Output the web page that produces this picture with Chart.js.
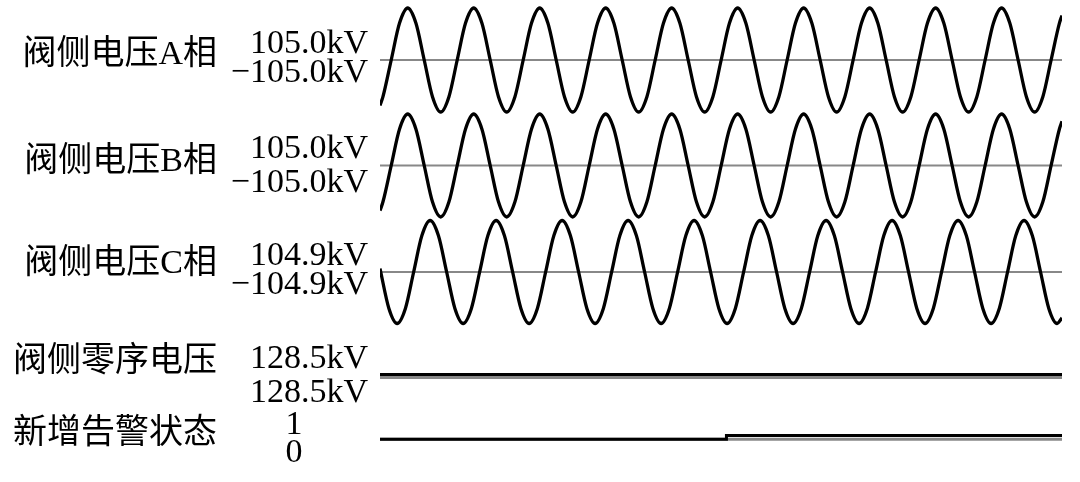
<!DOCTYPE html>
<html>
<head>
<meta charset="utf-8">
<title>阀侧电压波形</title>
<script src="https://cdn.jsdelivr.net/npm/chart.js@4.4.1/dist/chart.umd.min.js"></script>
<style>
    html, body { margin: 0; padding: 0; background: #fff; }
    #wrap { width: 1080px; height: 482px; }
</style>
</head>
<body>
<div id="wrap"><canvas id="waveChart" width="1080" height="482"></canvas></div>
<script>
// time in ms, 50 Hz record (about 10.3 cycles)
const timeSpan = [0, 206.7];
const baseline = [0, 0];

// phase A / B: read every eighth of a cycle
const timeAB = [0, 0.9, 3.4, 5.9, 8.4, 10.9, 13.4, 15.9, 18.4, 20.9, 23.4, 25.9, 28.4, 30.9, 33.4, 35.9,
    38.4, 40.9, 43.4, 45.9, 48.4, 50.9, 53.4, 55.9, 58.4, 60.9, 63.4, 65.9, 68.4, 70.9, 73.4, 75.9,
    78.4, 80.9, 83.4, 85.9, 88.4, 90.9, 93.4, 95.9, 98.4, 100.9, 103.4, 105.9, 108.4, 110.9, 113.4,
    115.9, 118.4, 120.9, 123.4, 125.9, 128.4, 130.9, 133.4, 135.9, 138.4, 140.9, 143.4, 145.9, 148.4,
    150.9, 153.4, 155.9, 158.4, 160.9, 163.4, 165.9, 168.4, 170.9, 173.4, 175.9, 178.4, 180.9, 183.4,
    185.9, 188.4, 190.9, 193.4, 195.9, 198.4, 200.9, 203.4, 205.9, 206.7];
const phaseA = [-92,
    -74, 0, 74, 105, 74, 0, -74, -105, -74, 0, 74, 105, 74, 0, -74, -105,
    -74, 0, 74, 105, 74, 0, -74, -105, -74, 0, 74, 105, 74, 0, -74, -105,
    -74, 0, 74, 105, 74, 0, -74, -105, -74, 0, 74, 105, 74, 0, -74, -105,
    -74, 0, 74, 105, 74, 0, -74, -105, -74, 0, 74, 105, 74, 0, -74, -105,
    -74, 0, 74, 105, 74, 0, -74, -105, -74, 0, 74, 105, 74, 0, -74, -105,
    -74, 0, 74, 90];
const phaseB = [-92,
    -74, 0, 74, 105, 74, 0, -74, -105, -74, 0, 74, 105, 74, 0, -74, -105,
    -74, 0, 74, 105, 74, 0, -74, -105, -74, 0, 74, 105, 74, 0, -74, -105,
    -74, 0, 74, 105, 74, 0, -74, -105, -74, 0, 74, 105, 74, 0, -74, -105,
    -74, 0, 74, 105, 74, 0, -74, -105, -74, 0, 74, 105, 74, 0, -74, -105,
    -74, 0, 74, 105, 74, 0, -74, -105, -74, 0, 74, 105, 74, 0, -74, -105,
    -74, 0, 74, 90];

// phase C lags by about a third of a cycle
const timeC = [0, 2.7, 5.2, 7.7, 10.2, 12.7, 15.2, 17.7, 20.2, 22.7, 25.2, 27.7, 30.2, 32.7, 35.2, 37.7,
    40.2, 42.7, 45.2, 47.7, 50.2, 52.7, 55.2, 57.7, 60.2, 62.7, 65.2, 67.7, 70.2, 72.7, 75.2, 77.7,
    80.2, 82.7, 85.2, 87.7, 90.2, 92.7, 95.2, 97.7, 100.2, 102.7, 105.2, 107.7, 110.2, 112.7, 115.2,
    117.7, 120.2, 122.7, 125.2, 127.7, 130.2, 132.7, 135.2, 137.7, 140.2, 142.7, 145.2, 147.7, 150.2,
    152.7, 155.2, 157.7, 160.2, 162.7, 165.2, 167.7, 170.2, 172.7, 175.2, 177.7, 180.2, 182.7, 185.2,
    187.7, 190.2, 192.7, 195.2, 197.7, 200.2, 202.7, 205.2, 206.7];
const phaseC = [7,
    -74.2, -104.9, -74.2, 0, 74.2, 104.9, 74.2, 0, -74.2, -104.9, -74.2, 0, 74.2, 104.9, 74.2, 0,
    -74.2, -104.9, -74.2, 0, 74.2, 104.9, 74.2, 0, -74.2, -104.9, -74.2, 0, 74.2, 104.9, 74.2, 0,
    -74.2, -104.9, -74.2, 0, 74.2, 104.9, 74.2, 0, -74.2, -104.9, -74.2, 0, 74.2, 104.9, 74.2, 0,
    -74.2, -104.9, -74.2, 0, 74.2, 104.9, 74.2, 0, -74.2, -104.9, -74.2, 0, 74.2, 104.9, 74.2, 0,
    -74.2, -104.9, -74.2, 0, 74.2, 104.9, 74.2, 0, -74.2, -104.9, -74.2, 0, 74.2, 104.9, 74.2, 0,
    -74.2, -104.9, -93.5];

const zeroSeq = [128.5, 128.5];
const alarmTime = [0, 105, 206.7];
const alarmState = [0, 1, 1];

const channelNames = ['阀侧电压A相', '阀侧电压B相', '阀侧电压C相', '阀侧零序电压', '新增告警状态'];
const maxLabels = ['105.0kV', '105.0kV', '104.9kV', '128.5kV', '1'];
const minLabels = ['\u2212105.0kV', '\u2212105.0kV', '\u2212104.9kV', '128.5kV', '0'];

// layout of the text column (pixels)
const nameY = [55, 162, 264, 362, 434];
const maxY = [52.7, 158.3, 265, 368.3, 434.3];
const minY = [81.7, 191.7, 294, 401.7, 462];

const H = 482;
// linear axis that puts value v1 at pixel p1 and v2 at pixel p2
function band(v1, p1, v2, p2) {
    const range = (v1 - v2) * H / (p2 - p1);
    const max = v1 + p1 / H * range;
    return { type: 'linear', display: false, min: max - range, max: max };
}

function pts(xs, ys) {
    return xs.map((x, i) => ({ x: x, y: ys[i] }));
}

function signal(xs, ys, axis, extra) {
    return Object.assign({
        data: pts(xs, ys),
        yAxisID: axis,
        borderColor: '#000',
        borderWidth: 3.3,
        pointRadius: 0,
        cubicInterpolationMode: 'monotone',
        order: 0
    }, extra || {});
}

function refLine(axis, width) {
    return {
        data: pts(timeSpan, baseline),
        yAxisID: axis,
        borderColor: '#888',
        borderWidth: width,
        pointRadius: 0,
        order: 1
    };
}

const labelPlugin = {
    id: 'channelLabels',
    afterDraw(chart) {
        const c = chart.ctx;
        c.save();
        c.fillStyle = '#000';
        c.textAlign = 'right';
        c.textBaseline = 'middle';
        c.font = '34px "Liberation Serif", "Noto Sans CJK SC"';
        channelNames.forEach((n, i) => c.fillText(n, 217, nameY[i]));

        c.textBaseline = 'alphabetic';
        c.font = '34px "Liberation Serif"';
        maxLabels.forEach((t, i) => {
            const last = i === maxLabels.length - 1;
            c.textAlign = last ? 'center' : 'right';
            c.fillText(t, last ? 294 : 368, maxY[i]);
            c.fillText(minLabels[i], last ? 294 : 368, minY[i]);
        });
        c.restore();
    }
};

new Chart(document.getElementById('waveChart').getContext('2d'), {
    type: 'line',
    data: {
        datasets: [
            signal(timeAB, phaseA, 'yA'),
            signal(timeAB, phaseB, 'yB'),
            signal(timeC, phaseC, 'yC'),
            signal(timeSpan, zeroSeq, 'yZ', { borderWidth: 3 }),
            signal(alarmTime, alarmState, 'yS', { stepped: 'before', borderWidth: 3 }),
            refLine('yA', 2.2),
            refLine('yB', 2.2),
            refLine('yC', 2.2),
            refLine('yZ', 3),
            refLine('yS', 3)
        ]
    },
    options: {
        responsive: false,
        animation: false,
        layout: { padding: { left: 380, right: 18, top: 0, bottom: 0 } },
        plugins: { legend: { display: false }, tooltip: { enabled: false } },
        scales: {
            x: { type: 'linear', display: false, min: timeSpan[0], max: timeSpan[1] },
            yA: band(105, 8, -105, 112),
            yB: band(105, 114, -105, 217),
            yC: band(104.9, 220.5, -104.9, 323.5),
            yZ: band(128.5, 374.5, 0, 377.5),
            yS: band(1, 435.5, 0, 439.2)
        }
    },
    plugins: [labelPlugin]
});
</script>
</body>
</html>
